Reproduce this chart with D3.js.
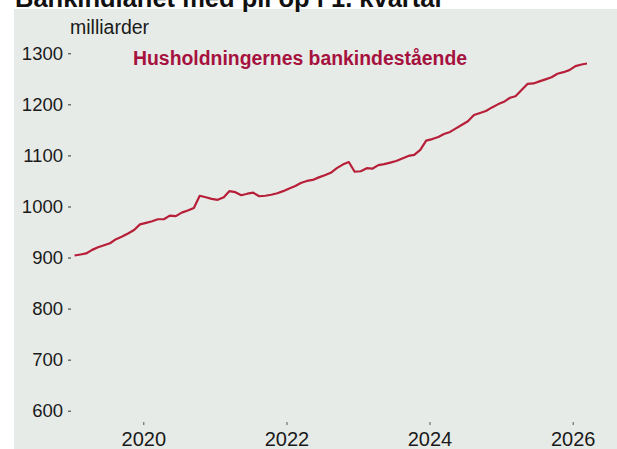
<!DOCTYPE html>
<html>
<head>
<meta charset="utf-8">
<script src="https://cdn.jsdelivr.net/npm/d3@7"></script>
<style>
  html, body { margin: 0; padding: 0; background: #ffffff; }
  svg { display: block; }
</style>
</head>
<body>
<div id="chart"></div>
<script>
// monthly values, mid-month, from jan 2019
const firstYear = 2019;
const values = [
    904, 906, 908, 915, 920, 924, 928, 936, 941, 947, 954, 965,   // 2019
    968, 971, 975, 975, 982, 981, 988, 992, 997, 1021, 1018, 1015, // 2020
    1013, 1018, 1030, 1028, 1022, 1025, 1027, 1020, 1021, 1023, 1026, 1030, // 2021
    1035, 1040, 1046, 1050, 1052, 1057, 1061, 1066, 1075, 1082, 1087, 1068, // 2022
    1069, 1075, 1074, 1081, 1083, 1086, 1089, 1094, 1099, 1101, 1111, 1129, // 2023
    1132, 1136, 1142, 1146, 1153, 1160, 1167, 1179, 1183, 1187, 1194, 1200, // 2024
    1205, 1213, 1216, 1228, 1240, 1241, 1245, 1249, 1253, 1260, 1263, 1267, // 2025
    1275, 1278, 1280                                                   // 2026
];
const yTicks = [600, 700, 800, 900, 1000, 1100, 1200, 1300];
const xTicks = [2020, 2022, 2024, 2026];
const title = 'Bankindlånet med pil op i 1. kvartal';
const unitLabel = 'milliarder';
const seriesLabel = 'Husholdningernes bankindestående';

const W = 617, H = 449;
const font = '"Liberation Sans", Arial, sans-serif';

const data = values.map((v, i) => ({
    date: new Date(firstYear + Math.floor(i / 12), i % 12, 15),
    value: v
}));

const svg = d3.select('#chart').append('svg')
    .attr('width', W)
    .attr('height', H)
    .style('font-family', font);

// panel
svg.append('rect')
    .attr('x', 14).attr('y', 9)
    .attr('width', W - 14).attr('height', H - 9)
    .attr('fill', '#e7ebe8');

// title, cut off by the top edge (as in the original)
svg.append('text')
    .attr('x', 15).attr('y', 7)
    .attr('font-size', 25.5)
    .attr('font-weight', 'bold')
    .attr('fill', '#111')
    .text(title);

const x = d3.scaleTime()
    .domain([new Date(2020, 0, 1), new Date(2026, 0, 1)])
    .range([143.3, 572.7]);

const y = d3.scaleLinear()
    .domain([600, 1300])
    .range([410.7, 53.3]);

// y axis
const yAxis = d3.axisLeft(y)
    .tickValues(yTicks)
    .tickSize(3)
    .tickPadding(5)
    .tickFormat(d3.format('d'));

const gy = svg.append('g')
    .attr('transform', 'translate(71,0)')
    .call(yAxis);
gy.select('.domain').remove();
gy.selectAll('.tick line').attr('stroke', '#333');
gy.selectAll('.tick text')
    .attr('font-size', 18.5)
    .attr('font-family', font)
    .attr('fill', '#1a1a1a');

// x axis
const xAxis = d3.axisBottom(x)
    .tickValues(xTicks.map(yr => new Date(yr, 0, 1)))
    .tickSize(3)
    .tickPadding(7)
    .tickFormat(d3.timeFormat('%Y'));

const gx = svg.append('g')
    .attr('transform', 'translate(0,422)')
    .call(xAxis);
gx.select('.domain').remove();
gx.selectAll('.tick line').attr('stroke', '#555');
gx.selectAll('.tick text')
    .attr('font-size', 20)
    .attr('font-family', font)
    .attr('fill', '#1a1a1a');

// unit label
svg.append('text')
    .attr('x', 70).attr('y', 34)
    .attr('font-size', 19.5)
    .attr('fill', '#1a1a1a')
    .text(unitLabel);

// series
const line = d3.line()
    .x(d => x(d.date))
    .y(d => y(d.value));

svg.append('path')
    .datum(data)
    .attr('fill', 'none')
    .attr('stroke', '#b71f38')
    .attr('stroke-width', 2.2)
    .attr('stroke-linejoin', 'round')
    .attr('d', line);

svg.append('text')
    .attr('x', 133).attr('y', 65)
    .attr('font-size', 19.4)
    .attr('font-weight', 'bold')
    .attr('fill', '#a6123e')
    .text(seriesLabel);
</script>
</body>
</html>
